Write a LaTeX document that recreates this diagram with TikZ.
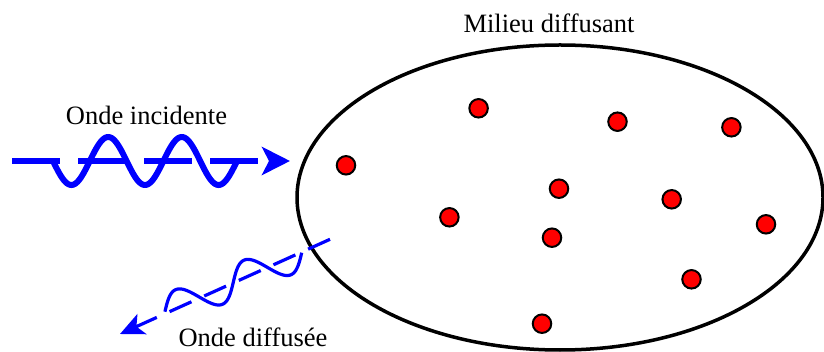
\documentclass[tikz,border=0pt]{standalone}
\usepackage{fontspec}
\setmainfont{Liberation Serif}
\usetikzlibrary{arrows.meta,shapes.geometric}
\begin{document}
\begin{tikzpicture}[x=1pt,y=-1pt,
  lbl/.style={font=\fontsize{26.5}{30}\selectfont, anchor=base, inner sep=0pt},
  scatterer/.style={circle, draw=black, fill=red, line width=2pt, minimum size=18.5pt, inner sep=0pt},
  medium/.style={ellipse, draw=black, line width=3.5pt, minimum width=526pt, minimum height=305pt, inner sep=0pt},
  incwave/.style={blue, line width=6pt},
  scawave/.style={blue, line width=3.2pt}]
\useasboundingbox (0,0) rectangle (824,352);
% medium
\node[medium] (milieu) at (560,197.5) {};
% scatterers
\foreach \n/\x/\y in {1/478.6/108.3, 2/617.5/121.7, 3/731.4/127.3, 4/346/165.3,
  5/559/188.7, 6/671.7/199.3, 7/449.4/217.3, 8/766/224.3, 9/552/237.7,
  10/691.5/279.3, 11/542/323.7}
  \node[scatterer] (d\n) at (\x,\y) {};
% labels
\node[lbl] (tmil) at (549,33) {Milieu diffusant};
\node[lbl] (tinc) at (146.5,125) {Onde incidente};
\node[lbl] (tdif) at (253,346.5) {Onde diffusée};
% incident wave
\coordinate (incA) at (12,161);
\coordinate (incB) at (290,161);
\draw[incwave, dash pattern=on 48pt off 18pt, -{Stealth[length=28pt,width=28pt,inset=7pt]}] (incA) -- (incB);
\draw[incwave] plot[domain=0:184, samples=120, smooth] ({53+\x}, {161 + 24*sin(4.8913*\x)});
% scattered wave
\coordinate (scaA) at (330,239.3);
\coordinate (scaB) at (120,334);
\draw[scawave, dash pattern=on 24pt off 14pt, -{Stealth[length=24pt,width=22pt,inset=6pt]}] (scaA) -- (scaB);
\draw[scawave] plot[domain=0:149, samples=120, smooth]
  ({301.7 - 0.918*\x + 6.336*sin(4.8322*\x)}, {252.7 + 0.396*\x + 14.688*sin(4.8322*\x)});
\end{tikzpicture}
\end{document}
